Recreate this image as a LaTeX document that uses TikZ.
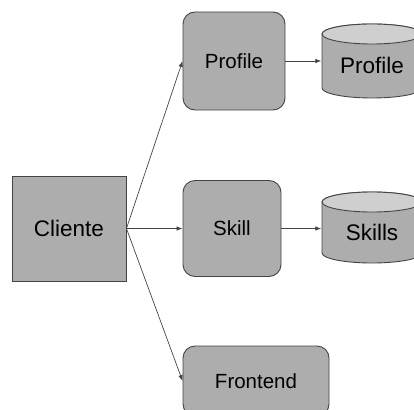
\documentclass[tikz,border=0pt]{standalone}
\usepackage{fontspec}
\setmainfont{Liberation Sans}
\usetikzlibrary{arrows.meta}
\definecolor{boxgray}{HTML}{ADADAD}
\definecolor{topgray}{HTML}{CFCFCF}
\definecolor{linegray}{HTML}{444444}
\tikzset{
  service/.style={rectangle, rounded corners=12pt, draw=linegray, line width=0.9pt, fill=boxgray, inner sep=0pt, font=\fontsize{20.5}{24}\selectfont},
  client/.style={rectangle, draw=linegray, line width=0.9pt, fill=boxgray, inner sep=0pt, minimum width=114pt, minimum height=105pt, font=\fontsize{22.5}{26}\selectfont},
  store/.style={rectangle, inner sep=0pt, minimum width=101pt, minimum height=75pt, text height=25pt, text depth=0pt, font=\fontsize{22.5}{26}\selectfont,
    path picture={
      \draw[draw=linegray, line width=0.9pt, fill=boxgray]
        ([xshift=0.5pt, yshift=-10.5pt]path picture bounding box.north west)
        -- ([xshift=0.5pt, yshift=10.5pt]path picture bounding box.south west)
        arc (180:360:50pt and 10pt)
        -- ([xshift=-0.5pt, yshift=-10.5pt]path picture bounding box.north east)
        arc (0:180:50pt and 10pt) -- cycle;
      \draw[draw=linegray, line width=0.9pt, fill=topgray]
        ([yshift=-10.5pt]path picture bounding box.north) ellipse (50pt and 10pt);
    }},
  link/.style={draw=linegray, line width=0.7pt, -{Latex[length=6pt,width=4.5pt]}}
}
\begin{document}
\begin{tikzpicture}[x=1pt, y=-1pt]
  \useasboundingbox (0,0) rectangle (414,409);
  \node (cliente) at (69,228.5) [client] {Cliente};
  \node (profile) at (234,61) [service, minimum width=102pt, minimum height=98pt] {Profile};
  \node (skill) at (232,228.5) [service, minimum width=98pt, minimum height=96pt] {Skill};
  \node (frontend) at (256,381) [service, minimum width=146pt, minimum height=70pt] {Frontend};
  \node (profiledb) at (372,61) [store] {Profile};
  \node (skillsdb) at (372,227.5) [store, minimum height=72pt] {Skills};
  \foreach \source/\dest in {cliente/profile, cliente/skill, cliente/frontend}
    \path (\source.east) edge[link] (\dest.west);
  \foreach \source/\dest in {profile/profiledb, skill/skillsdb}
    \path (\source.east) edge[link] (\source.east -| \dest.west);
\end{tikzpicture}
\end{document}
